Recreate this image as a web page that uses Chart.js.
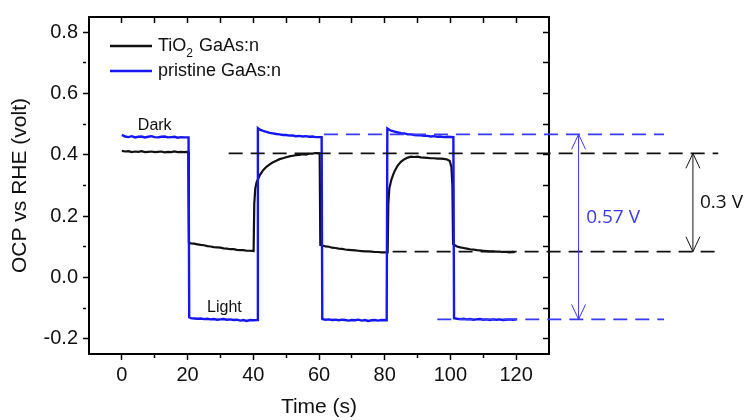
<!DOCTYPE html>
<html>
<head>
<meta charset="utf-8">
<script src="https://cdn.jsdelivr.net/npm/chart.js@4.4.1/dist/chart.umd.min.js"></script>
<style>
  html, body { margin: 0; padding: 0; background: #fff; }
  #wrap { width: 751px; height: 420px; }
</style>
</head>
<body>
<div id="wrap"><canvas id="grafico" width="751" height="420"></canvas></div>
<script>
// datos (tiempo en s, OCP en V vs RHE)
const tiempoTiO2 = [
  0, 1, 2, 3, 4, 5, 6, 7, 8, 9, 10, 11, 12, 13, 14, 15, 16, 17, 18, 19, 20.2,
  20.4, 21, 22, 23, 24, 25, 26, 27, 28, 29, 30, 31, 32, 33, 34, 35, 36, 37, 38, 39, 40.1,
  40.3, 40.6, 41, 41.5, 42, 43, 44, 45, 46, 47, 48, 49, 50, 51, 52, 53, 54, 55, 56, 57, 58, 59, 60.2,
  60.4, 61, 62, 63, 64, 65, 66, 67, 68, 69, 70, 71, 72, 73, 74, 75, 76, 77, 78, 79, 80.9,
  81.1, 81.4, 82, 82.5, 83, 84, 85, 86, 87, 88, 89, 90, 91, 92, 93, 94, 95, 96, 97, 98, 99, 99.8, 100.3, 100.6,
  100.8, 101.5, 102, 103, 104, 105, 106, 107, 108, 109, 110, 111, 112, 113, 114, 115, 116, 117, 118, 119, 119.6
];
const ocpTiO2 = [
  0.413, 0.411, 0.412, 0.409, 0.411, 0.410, 0.412, 0.409, 0.410, 0.411, 0.409, 0.410, 0.411, 0.408, 0.410, 0.409, 0.411, 0.409, 0.410, 0.409, 0.410,
  0.113, 0.111, 0.110, 0.108, 0.106, 0.105, 0.102, 0.101, 0.099, 0.098, 0.097, 0.095, 0.094, 0.092, 0.092, 0.090, 0.089, 0.089, 0.087, 0.087, 0.086,
  0.240, 0.290, 0.310, 0.322, 0.334, 0.350, 0.361, 0.369, 0.376, 0.381, 0.386, 0.389, 0.392, 0.395, 0.397, 0.399, 0.400, 0.402, 0.401, 0.404, 0.404, 0.406, 0.405,
  0.106, 0.104, 0.101, 0.100, 0.097, 0.096, 0.094, 0.093, 0.091, 0.090, 0.089, 0.088, 0.087, 0.086, 0.085, 0.085, 0.084, 0.083, 0.083, 0.082, 0.082,
  0.240, 0.290, 0.318, 0.333, 0.347, 0.366, 0.378, 0.386, 0.391, 0.394, 0.393, 0.394, 0.392, 0.391, 0.390, 0.389, 0.389, 0.388, 0.388, 0.387, 0.385, 0.380, 0.360, 0.300,
  0.110, 0.104, 0.101, 0.098, 0.096, 0.094, 0.092, 0.091, 0.089, 0.088, 0.087, 0.086, 0.085, 0.085, 0.084, 0.084, 0.083, 0.083, 0.082, 0.083, 0.082
];
const tiempoPristine = [
  0, 1, 2, 3, 4, 5, 6, 7, 8, 9, 10, 11, 12, 13, 14, 15, 16, 17, 18, 19, 20.3,
  20.5, 21, 22, 23, 24, 25, 26, 27, 28, 29, 30, 31, 32, 33, 34, 35, 36, 37, 38, 39, 40, 41.2,
  41.4, 42, 43, 44, 45, 46, 47, 48, 49, 50, 51, 52, 53, 54, 55, 56, 57, 58, 59, 60.8,
  61, 62, 63, 64, 65, 66, 67, 68, 69, 70, 71, 72, 73, 74, 75, 76, 77, 78, 79, 80.6,
  80.8, 81.5, 82, 83, 84, 85, 86, 87, 88, 89, 90, 91, 92, 93, 94, 95, 96, 97, 98, 99, 100.9,
  101.1, 102, 103, 104, 105, 106, 107, 108, 109, 110, 111, 112, 113, 114, 115, 116, 117, 118, 119, 120.2
];
const ocpPristine = [
  0.465, 0.460, 0.458, 0.461, 0.457, 0.459, 0.460, 0.457, 0.459, 0.461, 0.458, 0.457, 0.459, 0.460, 0.457, 0.458, 0.459, 0.456, 0.458, 0.457, 0.457,
  -0.130, -0.133, -0.134, -0.135, -0.134, -0.136, -0.135, -0.137, -0.136, -0.138, -0.137, -0.136, -0.138, -0.137, -0.139, -0.138, -0.141, -0.139, -0.142, -0.139, -0.140, -0.139,
  0.487, 0.482, 0.478, 0.475, 0.472, 0.470, 0.468, 0.467, 0.465, 0.465, 0.463, 0.463, 0.461, 0.462, 0.460, 0.461, 0.459, 0.460, 0.458, 0.458,
  -0.136, -0.138, -0.137, -0.139, -0.138, -0.140, -0.138, -0.139, -0.141, -0.139, -0.140, -0.138, -0.141, -0.139, -0.142, -0.140, -0.139, -0.141, -0.139, -0.140,
  0.486, 0.481, 0.479, 0.476, 0.473, 0.471, 0.470, 0.467, 0.467, 0.465, 0.464, 0.464, 0.462, 0.462, 0.460, 0.461, 0.459, 0.460, 0.458, 0.459, 0.458,
  -0.133, -0.135, -0.136, -0.135, -0.137, -0.136, -0.138, -0.137, -0.136, -0.138, -0.137, -0.139, -0.137, -0.138, -0.137, -0.139, -0.138, -0.137, -0.138, -0.137
];

// marcas de los ejes (las que llevan texto y las menores)
const ticksX = [0, 10, 20, 30, 40, 50, 60, 70, 80, 90, 100, 110, 120];
const etiquetasX = [0, 20, 40, 60, 80, 100, 120];
const ticksY = [-0.2, -0.1, 0.0, 0.1, 0.2, 0.3, 0.4, 0.5, 0.6, 0.7, 0.8];
const etiquetasY = [-0.2, 0.0, 0.2, 0.4, 0.6, 0.8];

// niveles marcados con lineas de trazos: [valor, desde (s), hasta (s)]
const nivelesPristine = [[0.467, 61.5, 165], [-0.137, 96, 165]];
const nivelesTiO2 = [[0.405, 32.5, 181.5], [0.084, 82.4, 181.5]];
// flechas de diferencia: [x (s), arriba, abajo, texto, x texto, y texto]
const flechaPristine = [139, 0.467, -0.137, "0.57 V", 149.5, 0.194];
const flechaTiO2 = [173.8, 0.405, 0.084, "0.3 V", 182.5, 0.243];
// rotulos Dark / Light
const rotulos = [["Dark", 10, 0.497], ["Light", 31.2, -0.097]];
const nombres = ["TiO", "pristine GaAs:n"];

const NEGRO = "#111111";
const AZUL = "#1616f2";
const AZUL_ANOT = "#3a3af6";

function puntos(tiempos, valores) {
  return tiempos.map((t, i) => ({ x: t, y: valores[i] }));
}

function tieneEtiqueta(valor, lista) {
  return lista.some((e) => Math.abs(e - valor) < 1e-6);
}

const anotaciones = {
  id: "anotaciones",
  afterDatasetsDraw(chart) {
    const ctx = chart.ctx;
    const sx = chart.scales.x;
    const sy = chart.scales.y;
    ctx.save();

    function trazos(niveles, color) {
      ctx.strokeStyle = color;
      ctx.lineWidth = 1.6;
      ctx.setLineDash([14, 8]);
      niveles.forEach((n) => {
        const py = sy.getPixelForValue(n[0]);
        ctx.beginPath();
        ctx.moveTo(sx.getPixelForValue(n[1]), py);
        ctx.lineTo(sx.getPixelForValue(n[2]), py);
        ctx.stroke();
      });
      ctx.setLineDash([]);
    }
    trazos(nivelesTiO2, NEGRO);
    trazos(nivelesPristine, AZUL_ANOT);

    function flecha(f, color) {
      const px = sx.getPixelForValue(f[0]);
      const y0 = sy.getPixelForValue(f[1]);
      const y1 = sy.getPixelForValue(f[2]);
      ctx.strokeStyle = color;
      ctx.lineWidth = 1;
      ctx.beginPath();
      ctx.moveTo(px, y0);
      ctx.lineTo(px, y1);
      ctx.moveTo(px - 7, y0 + 15);
      ctx.lineTo(px, y0);
      ctx.lineTo(px + 7, y0 + 15);
      ctx.moveTo(px - 7, y1 - 15);
      ctx.lineTo(px, y1);
      ctx.lineTo(px + 7, y1 - 15);
      ctx.stroke();
      ctx.fillStyle = color;
      ctx.font = '19px "Open Sans"';
      ctx.textAlign = "center";
      ctx.textBaseline = "middle";
      ctx.fillText(f[3], sx.getPixelForValue(f[4]), sy.getPixelForValue(f[5]));
    }
    flecha(flechaPristine, AZUL_ANOT);
    flecha(flechaTiO2, NEGRO);

    ctx.fillStyle = NEGRO;
    ctx.font = '16px "Liberation Sans"';
    ctx.textAlign = "center";
    ctx.textBaseline = "middle";
    rotulos.forEach((r) => {
      ctx.fillText(r[0], sx.getPixelForValue(r[1]), sy.getPixelForValue(r[2]));
    });
    ctx.restore();
  },
  afterDraw(chart) {
    // leyenda dentro del area del grafico
    const ctx = chart.ctx;
    const a = chart.chartArea;
    ctx.save();
    const x0 = a.left + 21;
    const filas = [a.top + 29, a.top + 54];
    const colores = [NEGRO, AZUL];
    ctx.lineWidth = 2.5;
    ctx.textBaseline = "middle";
    ctx.textAlign = "left";
    filas.forEach((fy, i) => {
      ctx.strokeStyle = colores[i];
      ctx.beginPath();
      ctx.moveTo(x0, fy);
      ctx.lineTo(x0 + 42, fy);
      ctx.stroke();
    });
    ctx.fillStyle = NEGRO;
    ctx.font = '18px "Liberation Sans"';
    let tx = x0 + 48;
    ctx.fillText(nombres[0], tx, filas[0]);
    tx += ctx.measureText(nombres[0]).width;
    ctx.font = '12px "Liberation Sans"';
    ctx.fillText("2", tx, filas[0] + 8);
    tx += ctx.measureText("2").width + 1;
    ctx.font = '18px "Liberation Sans"';
    ctx.fillText(" GaAs:n", tx, filas[0]);
    ctx.fillText(nombres[1], x0 + 48, filas[1]);
    ctx.restore();
  }
};

const fuenteTicks = { family: "Liberation Sans", size: 20 };
const fuenteTitulo = { family: "Liberation Sans", size: 21 };

function fijarTicks(lista) {
  return (s) => { s.ticks = lista.map((v) => ({ value: v })); };
}

const ejeX = {
  type: "linear",
  min: -10,
  max: 130,
  afterBuildTicks: fijarTicks(ticksX),
  border: { display: true, color: "#000", width: 2 },
  grid: {
    drawOnChartArea: false,
    tickLength: 6,
    tickWidth: 1.5,
    tickColor: "#000",
    tickBorderDash: (c) => (tieneEtiqueta(c.tick.value, etiquetasX) ? [] : [3, 40])
  },
  ticks: {
    autoSkip: false,
    maxRotation: 0,
    padding: 3,
    color: NEGRO,
    font: fuenteTicks,
    callback: (v) => (tieneEtiqueta(v, etiquetasX) ? String(Math.round(v)) : "")
  },
  title: { display: true, text: "Time (s)", color: NEGRO, font: fuenteTitulo, padding: { top: 0, bottom: 0 } },
  afterFit: (s) => { s.height = 66; }
};

const ejeY = {
  type: "linear",
  min: -0.25,
  max: 0.85,
  afterBuildTicks: fijarTicks(ticksY),
  border: { display: true, color: "#000", width: 2 },
  grid: {
    drawOnChartArea: false,
    tickLength: 6,
    tickWidth: 1.5,
    tickColor: "#000",
    tickBorderDash: (c) => (tieneEtiqueta(c.tick.value, etiquetasY) ? [] : [3, 40])
  },
  ticks: {
    autoSkip: false,
    padding: 5,
    color: NEGRO,
    font: fuenteTicks,
    callback: (v) => (tieneEtiqueta(v, etiquetasY) ? v.toFixed(1) : "")
  },
  title: { display: true, text: "OCP vs RHE (volt)", color: NEGRO, font: fuenteTitulo, padding: { top: 8, bottom: 0 } },
  afterFit: (s) => { s.width = 89; }
};

const chart = new Chart(document.getElementById("grafico"), {
  type: "line",
  data: {
    datasets: [
      {
        label: "TiO2 GaAs:n",
        data: puntos(tiempoTiO2, ocpTiO2),
        borderColor: NEGRO,
        borderWidth: 2.2,
        pointRadius: 0,
        tension: 0,
        order: 2
      },
      {
        label: "pristine GaAs:n",
        data: puntos(tiempoPristine, ocpPristine),
        borderColor: AZUL,
        borderWidth: 2.4,
        pointRadius: 0,
        tension: 0,
        order: 1
      }
    ]
  },
  options: {
    responsive: false,
    animation: false,
    layout: { padding: { left: 0, top: 14, right: 202, bottom: 0 } },
    plugins: { legend: { display: false }, tooltip: { enabled: false } },
    scales: {
      x: ejeX,
      y: ejeY,
      x2: {
        type: "linear",
        position: "top",
        min: -10,
        max: 130,
        afterBuildTicks: fijarTicks(ticksX),
        border: { display: true, color: "#000", width: 2 },
        grid: { drawOnChartArea: false, tickLength: -6, tickWidth: 1.5, tickColor: "#000" },
        ticks: { display: false, autoSkip: false },
        afterFit: (s) => { s.height = 0; }
      },
      y2: {
        type: "linear",
        position: "right",
        min: -0.25,
        max: 0.85,
        afterBuildTicks: fijarTicks(ticksY),
        border: { display: true, color: "#000", width: 2 },
        grid: { drawOnChartArea: false, tickLength: -6, tickWidth: 1.5, tickColor: "#000" },
        ticks: { display: false, autoSkip: false },
        afterFit: (s) => { s.width = 0; }
      }
    }
  },
  plugins: [anotaciones]
});
</script>
</body>
</html>
